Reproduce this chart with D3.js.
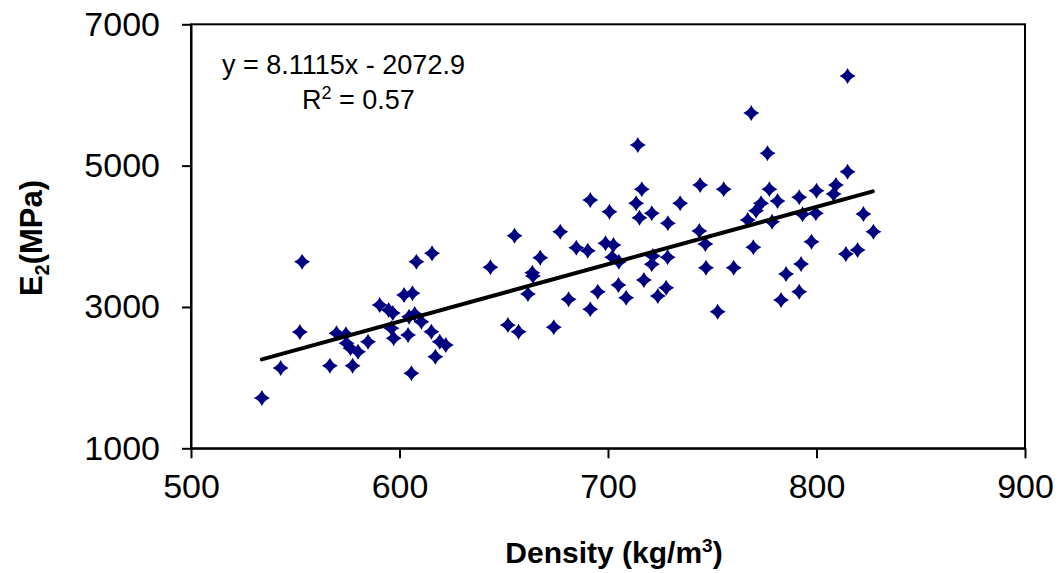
<!DOCTYPE html>
<html>
<head>
<meta charset="utf-8">
<script src="https://cdn.jsdelivr.net/npm/d3@7"></script>
<style>
  body { margin: 0; background: #fff; }
  svg { display: block; font-family: "Liberation Sans", Arial, sans-serif; }
</style>
</head>
<body>
<script>
// Density (kg/m3) vs E2 (MPa).
const density = [
  534.0, 543.0, 552.2, 553.3, 566.6, 569.8, 574.3, 574.6, 576.5, 580.1,
  577.5, 584.9, 590.5, 594.8, 596.8, 596.1, 597.2, 604.1, 604.6, 607.3,
  610.5, 615.3, 619.3, 622.2, 617.2, 605.7, 602.2, 606.2, 608.1, 615.6,
  643.6, 655.2, 667.5, 663.7, 664.0, 661.6, 677.1, 684.8, 690.3, 691.5,
  700.7, 698.8, 702.6, 702.0, 705.2, 695.1, 705.0, 681.1, 691.5, 652.0,
  657.1, 674.0, 714.3, 776.5, 716.2, 744.2, 755.5, 777.4, 791.7, 800.0,
  713.5, 715.1, 721.0, 734.6, 728.7, 773.4, 771.0, 781.3, 793.3, 799.7,
  767.0, 778.7, 743.8, 746.7, 721.5, 721.0, 728.6, 769.7, 797.6, 747.0,
  760.3, 792.6, 785.4, 791.7, 783.0, 708.7, 717.2, 723.9, 727.9, 752.6,
  768.7, 814.9, 814.9, 809.3, 808.2, 822.5, 827.3, 819.7, 814.1
];
const modulus = [
  1712, 2136, 2646, 3640, 2169, 2627, 2613, 2486, 2415, 2367,
  2169, 2508, 3028, 2957, 2914, 2698, 2557, 2603, 2862, 2900,
  2791, 2650, 2508, 2462, 2296, 2061, 3169, 3193, 3640, 3759,
  3561, 4008, 3697, 3485, 3438, 3183, 4065, 3838, 3796, 4513,
  4348, 3901, 3877, 3703, 3640, 3216, 3311, 3108, 2967, 2745,
  2650, 2712, 5292, 5174, 4665, 4726, 4665, 4665, 4552, 4645,
  4467, 4263, 4325, 4467, 4184, 4467, 4362, 4499, 4311, 4325,
  4230, 4206, 4075, 3891, 3721, 3604, 3703, 3844, 3923, 3555,
  3555, 3608, 3466, 3216, 3098, 3131, 3381, 3155, 3272, 2933,
  5745, 6268, 4914, 4726, 4598, 4315, 4065, 3806, 3749
];
const xTicks = [500, 600, 700, 800, 900];
const yTicks = [1000, 3000, 5000, 7000];
const slope = 8.1115, intercept = -2072.9;
const trendRange = [534, 827];

const W = 1064, H = 573;
const plot = {left: 191, right: 1025, top: 24.3, bottom: 448.3};

const x = d3.scaleLinear().domain([500, 900]).range([plot.left, plot.right]);
const y = d3.scaleLinear().domain([1000, 7000]).range([plot.bottom, plot.top]);

const svg = d3.select('body').append('svg')
  .attr('width', W).attr('height', H);

// plot frame
svg.append('rect')
  .attr('x', plot.left).attr('y', plot.top)
  .attr('width', plot.right - plot.left).attr('height', plot.bottom - plot.top)
  .attr('fill', 'none').attr('stroke', '#000').attr('stroke-width', 2);

// axes
const xAxis = svg.append('g')
  .attr('transform', 'translate(0,' + plot.bottom + ')')
  .call(d3.axisBottom(x).tickValues(xTicks).tickFormat(d3.format('d'))
    .tickSizeInner(10).tickSizeOuter(0).tickPadding(16));
const yAxis = svg.append('g')
  .attr('transform', 'translate(' + plot.left + ',0)')
  .call(d3.axisLeft(y).tickValues(yTicks).tickFormat(d3.format('d'))
    .tickSizeInner(9).tickSizeOuter(0).tickPadding(22));

[xAxis, yAxis].forEach(g => {
  g.select('.domain').attr('stroke', '#000').attr('stroke-width', 2);
  g.selectAll('.tick line').attr('stroke', '#000').attr('stroke-width', 2);
  g.selectAll('.tick text')
    .attr('fill', '#000')
    .style('font-family', '"Liberation Sans", Arial, sans-serif')
    .style('font-size', '34px');
});

// points
const marker = 'M0,-8 Q2.5,-2.5 8,0 Q2.5,2.5 0,8 Q-2.5,2.5 -8,0 Q-2.5,-2.5 0,-8 Z';
svg.append('g').selectAll('path')
  .data(density.map((d, i) => [d, modulus[i]]))
  .join('path')
  .attr('d', marker)
  .attr('transform', d => 'translate(' + x(d[0]) + ',' + y(d[1]) + ')')
  .attr('fill', '#000080');

// trend line
svg.append('line')
  .attr('x1', x(trendRange[0])).attr('y1', y(slope * trendRange[0] + intercept))
  .attr('x2', x(trendRange[1])).attr('y2', y(slope * trendRange[1] + intercept))
  .attr('stroke', '#000').attr('stroke-width', 4)
  .attr('stroke-linecap', 'round');

// equation
svg.append('text')
  .attr('x', 222).attr('y', 74)
  .style('font-size', '27px')
  .text('y = 8.1115x - 2072.9');
const r2 = svg.append('text')
  .attr('x', 302).attr('y', 109)
  .style('font-size', '27px');
r2.append('tspan').text('R');
r2.append('tspan').attr('dy', -10).style('font-size', '18px').text('2');
r2.append('tspan').attr('dy', 10).text(' = 0.57');

// axis titles
const xt = svg.append('text')
  .attr('x', 614).attr('y', 563)
  .attr('text-anchor', 'middle')
  .style('font-size', '30px').style('font-weight', 'bold')
  .text('Density (kg/m');
xt.append('tspan').attr('dy', -11).style('font-size', '19px').text('3');
xt.append('tspan').attr('dy', 11).text(')');

const yt = svg.append('text')
  .attr('transform', 'translate(42,238) rotate(-90)')
  .attr('text-anchor', 'middle')
  .style('font-size', '31px').style('font-weight', 'bold')
  .text('E');
yt.append('tspan').attr('dy', 7).style('font-size', '20px').text('2');
yt.append('tspan').attr('dy', -7).text('(MPa)');
</script>
</body>
</html>
